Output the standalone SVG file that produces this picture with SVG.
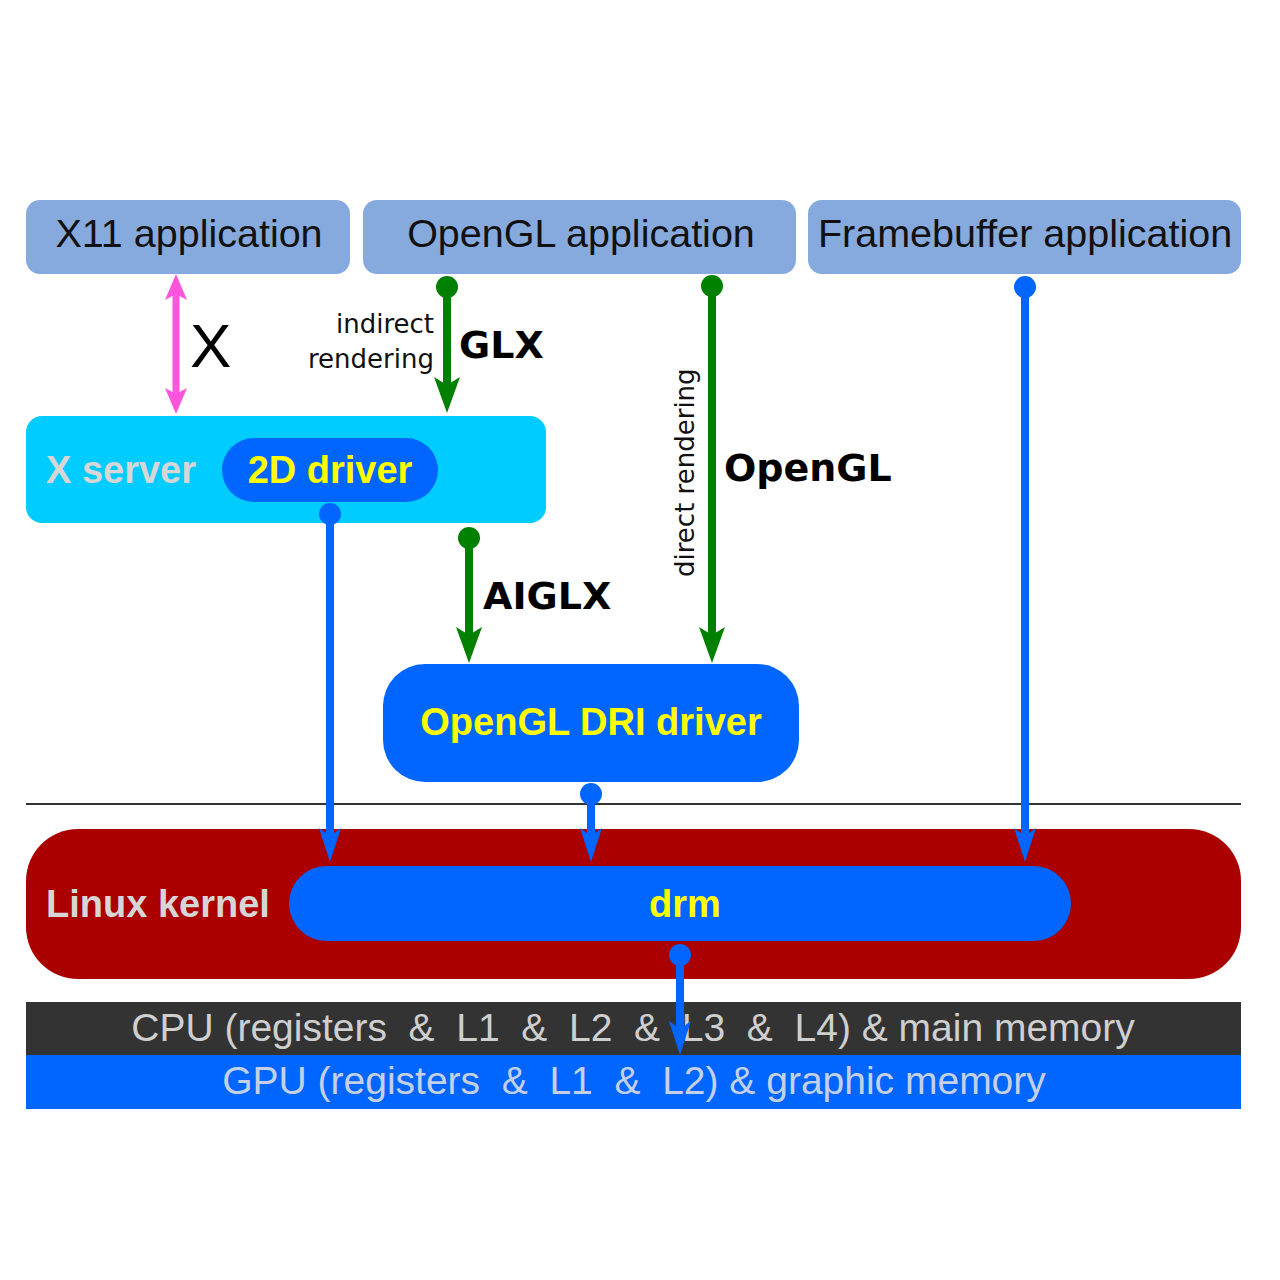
<svg xmlns="http://www.w3.org/2000/svg" width="1280" height="1280" viewBox="0 0 1280 1280">
<style>
.app{fill:#87aade}
.apptxt{font-family:"Liberation Sans",Arial,sans-serif;font-size:39.5px;fill:#111}
.bold{font-family:"Liberation Sans",Arial,sans-serif;font-weight:bold;font-size:38px}
.lbl{font-family:"DejaVu Sans",sans-serif;font-weight:bold;font-size:38px;fill:#000}
.small{font-family:"DejaVu Sans",sans-serif;font-size:26px;fill:#111}
.yel{fill:#ffff00}
.grey{fill:#d6d6d6}
.blue{fill:#0066ff}
.g{stroke:#008000;stroke-width:8;fill:none}
.b{stroke:#0066ff;stroke-width:8;fill:none}
.p{stroke:#ff55dd;stroke-width:7;fill:none}
.mem{font-family:"Liberation Sans",Arial,sans-serif;font-size:39px;white-space:pre}
</style>
<defs>
<marker id="gh" markerUnits="userSpaceOnUse" viewBox="0 0 36 26" refX="8" refY="13" markerWidth="36" markerHeight="26" orient="auto"><path d="M0,0 L36,13 L0,26 L8,13 z" fill="#008000"/></marker>
<marker id="bh" markerUnits="userSpaceOnUse" viewBox="0 0 34 22" refX="8" refY="11" markerWidth="34" markerHeight="22" orient="auto"><path d="M0,0 L34,11 L0,22 L8,11 z" fill="#0066ff"/></marker>
<marker id="ph" markerUnits="userSpaceOnUse" viewBox="0 0 26 22" refX="6" refY="11" markerWidth="26" markerHeight="22" orient="auto-start-reverse"><path d="M0,0 L26,11 L0,22 L6,11 z" fill="#ff55dd"/></marker>
<marker id="gd" markerUnits="userSpaceOnUse" viewBox="0 0 24 24" refX="12" refY="12" markerWidth="24" markerHeight="24"><circle cx="12" cy="12" r="11" fill="#008000"/></marker>
<marker id="bd" markerUnits="userSpaceOnUse" viewBox="0 0 24 24" refX="12" refY="12" markerWidth="24" markerHeight="24"><circle cx="12" cy="12" r="11" fill="#0066ff"/></marker>
</defs>
<rect width="1280" height="1280" fill="#fff"/>

<g id="x11-app"><rect class="app" x="26" y="200" width="324" height="74" rx="14"/><text class="apptxt" x="189" y="247" text-anchor="middle">X11 application</text></g>
<g id="opengl-app"><rect class="app" x="363" y="200" width="433" height="74" rx="14"/><text class="apptxt" x="581" y="247" text-anchor="middle">OpenGL application</text></g>
<g id="fb-app"><rect class="app" x="808" y="200" width="433" height="74" rx="14"/><text class="apptxt" x="1025" y="247" text-anchor="middle">Framebuffer application</text></g>

<g id="xserver"><rect x="26" y="416" width="520" height="107" rx="16" fill="#00ccff"/><text class="bold grey" x="46" y="483">X server</text>
<g id="driver2d"><rect class="blue" x="222" y="438" width="216" height="64" rx="32"/><text class="bold yel" x="330" y="483" text-anchor="middle">2D driver</text></g></g>

<g id="dri"><rect class="blue" x="383" y="664" width="416" height="118" rx="42"/><text class="bold yel" x="591" y="735" text-anchor="middle">OpenGL DRI driver</text></g>

<g id="kernel"><rect x="26" y="829" width="1215" height="150" rx="52" fill="#aa0000"/><text class="bold grey" x="46" y="917" font-size="39">Linux kernel</text>
<g id="drm"><rect class="blue" x="289" y="866" width="782" height="75" rx="37.5"/><text class="bold yel" x="685" y="917" text-anchor="middle">drm</text></g></g>

<g id="cpu"><rect x="26" y="1002" width="1215" height="53" fill="#333333"/><text class="mem" x="633" y="1041" text-anchor="middle" fill="#cfcfcf" xml:space="preserve">CPU (registers  &amp;  L1  &amp;  L2  &amp;  L3  &amp;  L4) &amp; main memory</text></g>
<g id="gpu"><rect class="blue" x="26" y="1055" width="1215" height="54"/><text class="mem" x="634" y="1094" text-anchor="middle" fill="#c4d0e8" xml:space="preserve">GPU (registers  &amp;  L1  &amp;  L2) &amp; graphic memory</text></g>

<line x1="26" y1="804" x2="1241" y2="804" stroke="#333" stroke-width="2"/>

<g id="connectors">
<path class="p" d="M176,294 V394" marker-start="url(#ph)" marker-end="url(#ph)"/>
<path class="g" d="M447,287 V385" marker-start="url(#gd)" marker-end="url(#gh)"/>
<path class="g" d="M469,538 V635" marker-start="url(#gd)" marker-end="url(#gh)"/>
<path class="g" d="M712,286 V635" marker-start="url(#gd)" marker-end="url(#gh)"/>
<path class="b" d="M330,514 V836" marker-start="url(#bd)" marker-end="url(#bh)"/>
<path class="b" d="M591,794 V836" marker-start="url(#bd)" marker-end="url(#bh)"/>
<path class="b" d="M1025,287 V836" marker-start="url(#bd)" marker-end="url(#bh)"/>
<path class="b" d="M680,955 V1029" marker-start="url(#bd)" marker-end="url(#bh)"/>
</g>

<g id="labels">
<text x="190" y="367" font-family="Liberation Sans,Arial,sans-serif" font-size="62" fill="#000">X</text>
<text class="small" x="434" y="333" text-anchor="end">indirect</text>
<text class="small" x="434" y="368" text-anchor="end">rendering</text>
<text class="lbl" x="459" y="358">GLX</text>
<text class="lbl" x="483" y="609">AIGLX</text>
<text class="lbl" x="724" y="481">OpenGL</text>
<text class="small" font-size="27" transform="translate(694,577) rotate(-90)">direct rendering</text>
</g>
</svg>
